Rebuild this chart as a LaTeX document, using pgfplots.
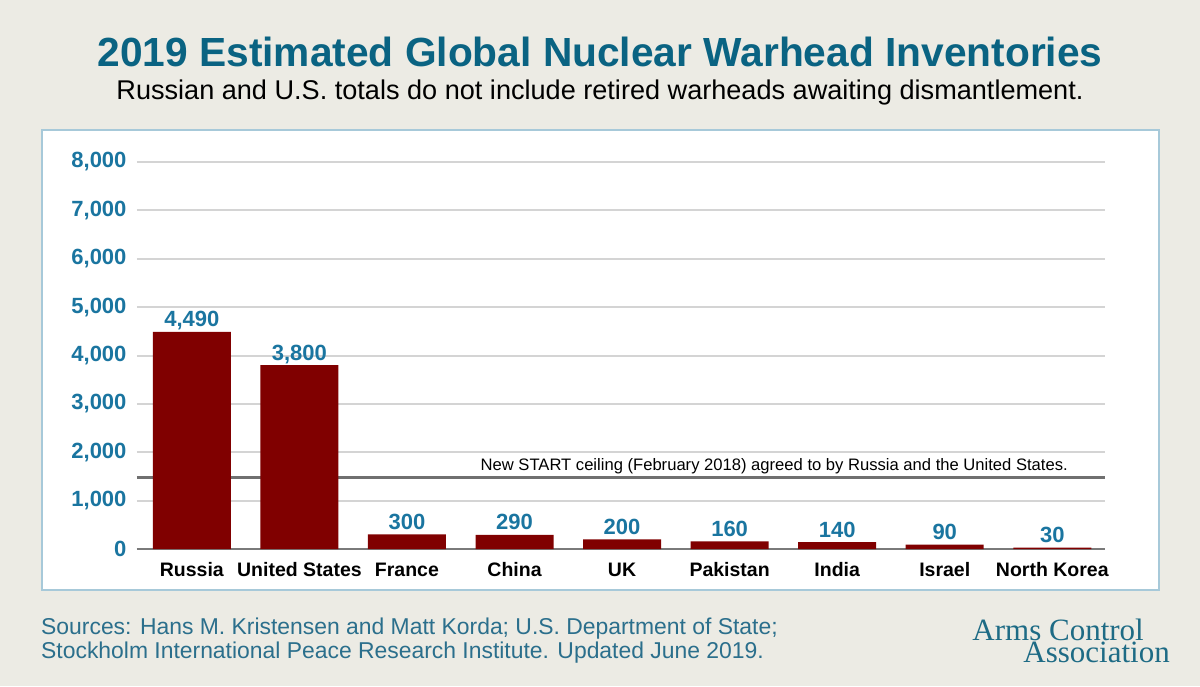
\documentclass[border=0pt]{standalone}
\usepackage{pgfplots}
\pgfplotsset{compat=1.18}
\usetikzlibrary{backgrounds}
\usepackage{fontspec}
\setmainfont{Liberation Sans}
\newfontfamily\logofont{Liberation Serif}

\definecolor{bg}{HTML}{ECEBE4}
\definecolor{panelblue}{HTML}{A7C9D9}
\definecolor{titleblue}{HTML}{0A6382}
\definecolor{tickblue}{HTML}{1A75A0}
\definecolor{srcblue}{HTML}{2B6F8C}
\definecolor{logoblue}{HTML}{1E6B85}
\definecolor{barred}{HTML}{800000}
\definecolor{gridgray}{HTML}{D4D4D4}
\definecolor{startgray}{HTML}{707070}
\definecolor{basegray}{HTML}{7A7A7A}

\begin{document}
\begin{tikzpicture}
\begin{axis}[
  name=ax,
  scale only axis, width=968pt, height=387pt,
  xmin=-0.51, xmax=8.49, ymin=0, ymax=8000,
  clip=false,
  axis line style={draw=none},
  major tick length=0pt,
  ytick={0,1000,...,8000},
  ymajorgrids,
  grid style={gridgray, line width=2pt},
  xtick={0,...,8},
  xticklabels={Russia, United States, France, China, UK, Pakistan, India, Israel, North Korea},
  scaled y ticks=false,
  yticklabel style={font=\fontsize{22}{24}\selectfont\bfseries, text=tickblue, xshift=-7pt},
  xticklabel style={font=\fontsize{19.5}{22}\selectfont\bfseries, anchor=base, yshift=-27pt},
  /pgf/number format/1000 sep={,},
  /pgf/number format/assume math mode=true,
]
% New START ceiling
\addplot[startgray, line width=3pt] coordinates {(-0.51,1470) (8.49,1470)};
\node[anchor=base east, inner sep=0pt, yshift=7pt, font=\fontsize{16.6}{19}\selectfont]
  at (axis cs:8.146,1470) {New START ceiling (February 2018) agreed to by Russia and the United States.};
% zero line
\addplot[basegray, line width=1.5pt] coordinates {(-0.51,0) (8.49,0)};
% warheads
\addplot[ybar, bar width=78pt, fill=barred, draw=none,
  nodes near coords,
  every node near coord/.append style={anchor=base, yshift=5pt, inner sep=0pt,
    font=\fontsize{22}{24}\selectfont\bfseries, text=tickblue}]
  coordinates {
    (0,4490) (1,3800) (2,300) (3,290) (4,200)
    (5,160) (6,140) (7,90) (8,30)
  };
\end{axis}

% everything else in pixel units, origin = bottom left of the image
\begin{scope}[shift={(ax.south west)}, x=1pt, y=1pt, shift={(-137pt,-137pt)}]
\begin{pgfonlayer}{background}
\fill[bg] (0,0) rectangle (1200,686);
\filldraw[fill=white, draw=panelblue, line width=1.2pt] (42,96) rectangle (1159,556);
\end{pgfonlayer}

\node[anchor=base, text=titleblue, font=\fontsize{40.7}{46}\selectfont\bfseries]
  at (600,619) {2019 Estimated Global Nuclear Warhead Inventories};
\node[anchor=base, font=\fontsize{27.1}{30}\selectfont]
  at (600,586) {Russian and U.S. totals do not include retired warheads awaiting dismantlement.};

\node[anchor=base west, inner sep=0pt, text=srcblue, font=\fontsize{22.9}{27}\selectfont]
  at (41,52) {Sources: Hans M. Kristensen and Matt Korda; U.S. Department of State;};
\node[anchor=base west, inner sep=0pt, text=srcblue, font=\fontsize{22.9}{27}\selectfont]
  at (41,28) {Stockholm International Peace Research Institute. Updated June 2019.};

% logo
\node[anchor=south east, inner sep=0pt, align=right, text=logoblue,
  font=\logofont\fontsize{31}{22}\selectfont]
  at (1170,23) {Arms Control\hspace*{26pt}\\Association};
\end{scope}
\end{tikzpicture}
\end{document}
